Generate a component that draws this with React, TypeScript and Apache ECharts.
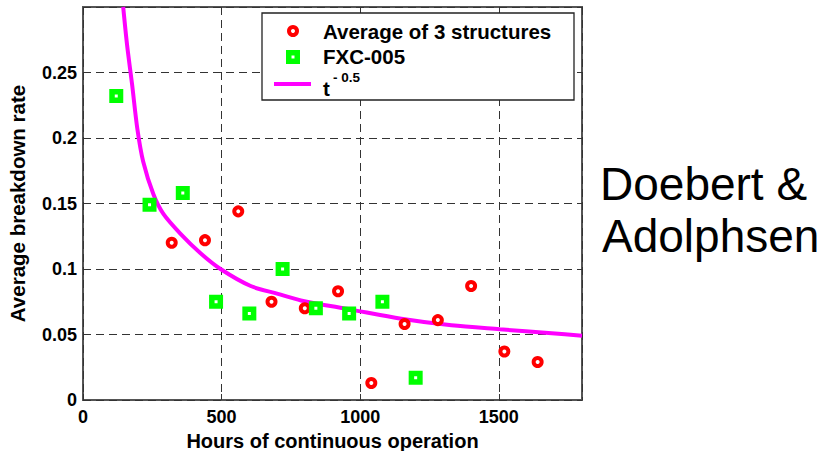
import React, { useEffect, useRef } from "react";
import * as echarts from "echarts";

// Average of 3 structures
const avgHours = [320, 440, 560, 680, 800, 920, 1040, 1160, 1280, 1400, 1520, 1640];
const avgRate = [0.12, 0.122, 0.144, 0.075, 0.07, 0.083, 0.013, 0.058, 0.061, 0.087, 0.037, 0.029];

// FXC-005
const fxcHours = [120, 240, 360, 480, 600, 720, 840, 960, 1080, 1200];
const fxcRate = [0.232, 0.149, 0.158, 0.075, 0.066, 0.1, 0.07, 0.066, 0.075, 0.017];

// t^-0.5 trend curve
const fitHours = [145, 159, 177, 196, 217, 254, 290, 351, 424, 496, 605, 703, 786, 967, 1148, 1329, 1503, 1691, 1800];
const fitRate = [0.3, 0.271, 0.241, 0.207, 0.182, 0.157, 0.142, 0.127, 0.112, 0.1, 0.087, 0.081, 0.076, 0.069, 0.062, 0.057, 0.054, 0.051, 0.049];

const legendLabels = ["Average of 3 structures", "FXC-005", "t", "- 0.5"];
const sideNote = ["Doebert &", "Adolphsen"];

const FONT = "'Liberation Sans', Arial, Helvetica, sans-serif";
const RED = "#ff0000";
const GREEN = "#00ff00";
const MAGENTA = "#ff00ff";

const zip = (xs: number[], ys: number[]) => xs.map((x, i) => [x, ys[i]]);

export default function App() {
  const ref = useRef<HTMLDivElement>(null);

  useEffect(() => {
    if (!ref.current) return;
    const chart = echarts.init(ref.current, undefined, { renderer: "svg" });

    const axisLabelStyle = {
      fontFamily: FONT,
      fontWeight: "bold" as const,
      fontSize: 18,
      color: "#000",
    };
    const dashed = { color: "#333", width: 1, type: [8, 5] as number[] };
    const legendText = (text: string, x: number, y: number, size = 20.5) => ({
      type: "text",
      x,
      y,
      z: 11,
      style: { text, fontFamily: FONT, fontWeight: "bold", fontSize: size, fill: "#000", verticalAlign: "middle" },
    });

    chart.setOption({
      animation: false,
      backgroundColor: "#fff",
      grid: {
        left: 83,
        right: 243,
        top: 7,
        bottom: 51,
        outerBoundsMode: "none",
        containLabel: false,
        show: true,
        borderColor: "#555",
        borderWidth: 2,
      },
      xAxis: {
        type: "value",
        min: 0,
        max: 1800,
        interval: 500,
        name: "Hours of continuous operation",
        nameLocation: "middle",
        nameGap: 30,
        nameTextStyle: { fontFamily: FONT, fontWeight: "bold", fontSize: 20, lineHeight: 20, color: "#000" },
        axisLine: { show: false },
        axisTick: { show: true, inside: true, length: 6, lineStyle: { color: "#333" } },
        axisLabel: { ...axisLabelStyle, margin: 8, showMaxLabel: false, formatter: (v: number) => String(v) },
        splitLine: { show: true, lineStyle: dashed },
      },
      yAxis: {
        type: "value",
        min: 0,
        max: 0.3,
        interval: 0.05,
        name: "Average breakdown rate",
        nameLocation: "middle",
        nameGap: 55,
        nameTextStyle: { fontFamily: FONT, fontWeight: "bold", fontSize: 20.5, color: "#000" },
        axisLine: { show: false },
        axisTick: { show: true, inside: true, length: 6, lineStyle: { color: "#333" } },
        axisLabel: {
          ...axisLabelStyle,
          margin: 6,
          showMaxLabel: false,
          formatter: (v: number) => String(parseFloat(v.toFixed(2))),
        },
        splitLine: { show: true, lineStyle: dashed },
      },
      series: [
        {
          name: legendLabels[0],
          type: "scatter",
          data: zip(avgHours, avgRate),
          symbol: "circle",
          symbolSize: 8,
          z: 4,
          itemStyle: { color: "#fff", borderColor: RED, borderWidth: 4, opacity: 1 },
        },
        {
          name: legendLabels[1],
          type: "scatter",
          data: zip(fxcHours, fxcRate),
          symbol: "rect",
          symbolSize: 8.5,
          z: 5,
          itemStyle: { color: "#fff", borderColor: GREEN, borderWidth: 5.5, opacity: 1 },
        },
        {
          name: "t^-0.5",
          type: "line",
          data: zip(fitHours, fitRate),
          smooth: 0.3,
          showSymbol: false,
          symbol: "none",
          z: 3,
          lineStyle: { color: MAGENTA, width: 4 },
        },
      ],
      graphic: [
        // legend box
        {
          type: "rect",
          shape: { x: 262, y: 13, width: 312, height: 87 },
          style: { fill: "#fff", stroke: "#222", lineWidth: 1.3 },
          z: 10,
        },
        {
          type: "circle",
          shape: { cx: 293, cy: 31, r: 4 },
          style: { fill: "#fff", stroke: RED, lineWidth: 4 },
          z: 11,
        },
        {
          type: "rect",
          shape: { x: 293 - 4.25, y: 57 - 4.25, width: 8.5, height: 8.5 },
          style: { fill: "#fff", stroke: GREEN, lineWidth: 5.5 },
          z: 11,
        },
        {
          type: "line",
          shape: { x1: 274, y1: 84, x2: 311, y2: 84 },
          style: { stroke: MAGENTA, lineWidth: 4 },
          z: 11,
        },
        legendText(legendLabels[0], 323, 31),
        legendText(legendLabels[1], 323, 56),
        legendText(legendLabels[2], 323, 88),
        legendText(legendLabels[3], 333, 77, 13.5),
        // side annotation
        {
          type: "text",
          x: 600,
          y: 184,
          style: { text: sideNote[0], fontFamily: FONT, fontSize: 46, fill: "#000", verticalAlign: "middle" },
        },
        {
          type: "text",
          x: 602,
          y: 236,
          style: { text: sideNote[1], fontFamily: FONT, fontSize: 46, fill: "#000", verticalAlign: "middle" },
        },
      ],
    });

    return () => chart.dispose();
  }, []);

  return (
    <div
      ref={ref}
      style={{ position: "fixed", left: 0, top: 0, width: 825, height: 451, background: "#fff" }}
    />
  );
}
